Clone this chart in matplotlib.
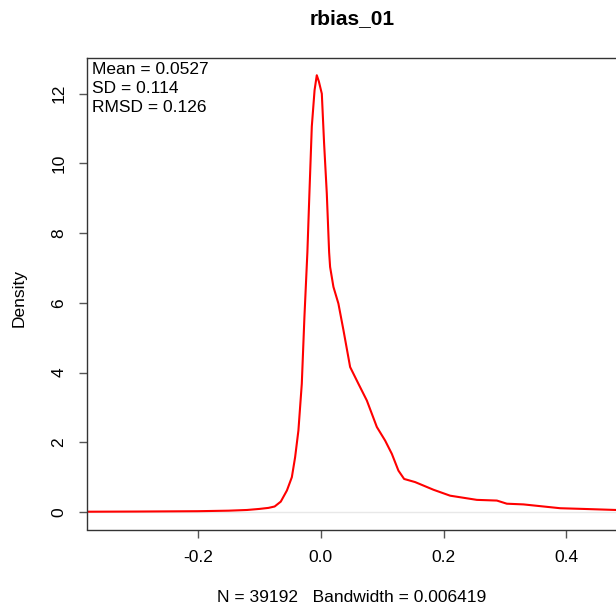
import matplotlib
matplotlib.use("Agg")
import matplotlib.pyplot as plt

title = "rbias_01"
xlabel = "N = 39192   Bandwidth = 0.006419"
ylabel = "Density"
stats = ["Mean = 0.0527", "SD = 0.114", "RMSD = 0.126"]

dens_x = [-0.38, -0.3, -0.2, -0.15, -0.12, -0.1, -0.085, -0.075, -0.065, -0.055,
          -0.047, -0.0417, -0.0363, -0.0308, -0.0265, -0.0217, -0.0184, -0.0145,
          -0.010, -0.0064, -0.003, 0.0018, 0.0055, 0.0099, 0.0137, 0.0153, 0.0207,
          0.0288, 0.037, 0.0479, 0.0614, 0.0751, 0.0914, 0.1049, 0.1158, 0.1265,
          0.1358, 0.1537, 0.1836, 0.2107, 0.2542, 0.2868, 0.303, 0.33, 0.3627,
          0.39, 0.428, 0.481]
dens_y = [0.01, 0.015, 0.025, 0.04, 0.06, 0.09, 0.12, 0.16, 0.3, 0.62,
          1.0, 1.57, 2.34, 3.68, 5.6, 7.45, 9.14, 11.06,
          12.1, 12.53, 12.35, 12.0, 10.58, 9.14, 7.45, 7.03, 6.46,
          5.98, 5.22, 4.16, 3.68, 3.2, 2.44, 2.05, 1.67, 1.19,
          0.95, 0.86, 0.64, 0.47, 0.35, 0.33, 0.24, 0.22, 0.16,
          0.11, 0.09, 0.06]

xticks = [-0.2, 0.0, 0.2, 0.4]
xtick_labels = ["-0.2", "0.0", "0.2", "0.4"]
yticks = [0, 2, 4, 6, 8, 10, 12]
ytick_labels = ["0", "2", "4", "6", "8", "10", "12"]

plt.rcParams['font.family'] = ['Liberation Sans', 'DejaVu Sans']
W, H = 616, 608
fig = plt.figure(figsize=(W / 100, H / 100), dpi=100)
left, right, top, bottom = 87.3, 618, 57.8, 529.5
ax = fig.add_axes([left / W, 1 - bottom / H, (right - left) / W, (bottom - top) / H])

ax.axhline(0, color="#e8e8e8", lw=1, zorder=1)
ax.plot(dens_x, dens_y, color="#ff0000", lw=1.5, zorder=2)

ax.set_xlim(-0.380, 0.484)
ax.set_ylim(-0.5, 13.03)
ax.set_xticks(xticks)
ax.set_xticklabels(xtick_labels)
ax.set_yticks(yticks)
ax.set_yticklabels(ytick_labels, rotation=90, va="center")
for s in ax.spines.values():
    s.set_color("#333333")
    s.set_linewidth(1.0)
ax.tick_params(axis="both", length=6, width=1, color="#555555", labelsize=12.5, pad=9)
ax.tick_params(axis="x", pad=9)

for i, line in enumerate(stats):
    ax.annotate(line, xy=(0, 1), xycoords="axes fraction",
                xytext=(4.5, -(69 - top) - 19 * i), textcoords="offset pixels",
                ha="left", va="center", fontsize=12.5, color="black")

fig.text(352 / W, 1 - 19 / H, title, ha="center", va="center", fontsize=15, fontweight="bold")
fig.text(352 / W, 1 - 598 / H, xlabel, ha="center", va="center", fontsize=12.5)
fig.text(19 / W, 1 - 298 / H, ylabel, ha="center", va="center", fontsize=12.5, rotation=90)

fig.savefig("out.png", dpi=100)
